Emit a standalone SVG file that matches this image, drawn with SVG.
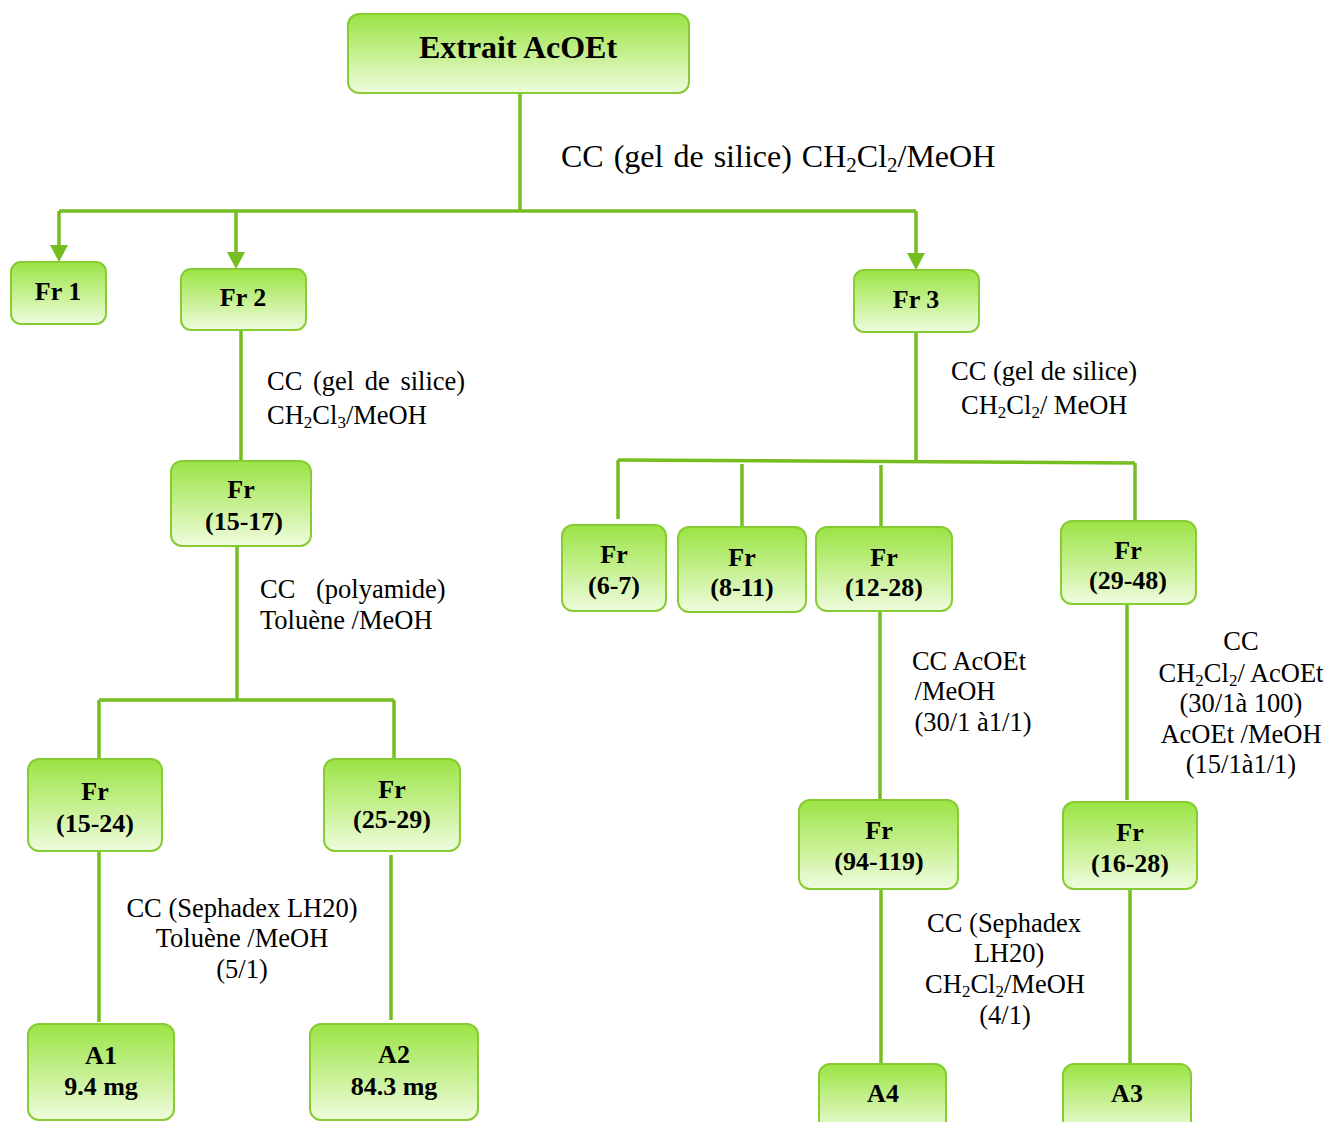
<svg xmlns="http://www.w3.org/2000/svg" width="1330" height="1122" viewBox="0 0 1330 1122">
  <defs>
    <linearGradient id="boxFill" x1="0" y1="0" x2="0" y2="1">
      <stop offset="0" stop-color="#9ae444"/>
      <stop offset="0.55" stop-color="#c9f196"/>
      <stop offset="1" stop-color="#effcdf"/>
    </linearGradient>
    <!-- arrowhead: the line ends 5 units inside the triangle, the tip sits 12 units below the line end -->
    <marker id="down" viewBox="0 0 18 17" markerWidth="18" markerHeight="17" refX="9" refY="5" orient="0" markerUnits="userSpaceOnUse">
      <path d="M0,0 L18,0 L9,17 Z" fill="#76bd22"/>
    </marker>
  </defs>
  <style>
    .box { fill: url(#boxFill); stroke: #86cc32; stroke-width: 2; }
    .lbl { font-family: "Liberation Serif", "Times New Roman", serif; font-weight: bold; font-size: 26px; fill: #000; text-anchor: middle; }
    .title { font-size: 32px; }
    .note { font-family: "Liberation Serif", "Times New Roman", serif; font-size: 26.5px; fill: #000; }
    .mid { text-anchor: middle; }
    .sub { font-size: 17px; }
    .link { fill: none; stroke: #76bd22; stroke-width: 3.5; }
  </style>

  <rect width="1330" height="1122" fill="#ffffff"/>

  <!-- connectors -->
  <g id="connectors">
    <path class="link" d="M520,93 V211"/>
    <path class="link" d="M59,211 H916"/>
    <path class="link" d="M59,211 V250" marker-end="url(#down)"/>
    <path class="link" d="M236,211 V257" marker-end="url(#down)"/>
    <path class="link" d="M916,211 V258" marker-end="url(#down)"/>

    <path class="link" d="M241,330 V461"/>
    <path class="link" d="M237,546 V700"/>
    <path class="link" d="M99,700 H394"/>
    <path class="link" d="M99,700 V759"/>
    <path class="link" d="M394,700 V759"/>
    <path class="link" d="M99,851 V1022"/>
    <path class="link" d="M391,855 V1020"/>

    <path class="link" d="M916,332 V462"/>
    <path class="link" d="M618,460 L1135,463"/>
    <path class="link" d="M618,460 V519"/>
    <path class="link" d="M742,464 V527"/>
    <path class="link" d="M881,465 V527"/>
    <path class="link" d="M1135,463 V521"/>
    <path class="link" d="M880,611 V800"/>
    <path class="link" d="M1127,604 V800"/>
    <path class="link" d="M881,889 V1065"/>
    <path class="link" d="M1130,889 V1068"/>
  </g>

  <!-- nodes -->
  <g id="extrait">
    <rect class="box" x="348" y="14" width="341" height="79" rx="11"/>
    <text class="lbl title" x="518" y="58">Extrait AcOEt</text>
  </g>
  <g id="fr1">
    <rect class="box" x="11" y="262" width="95" height="62" rx="10"/>
    <text class="lbl" x="58" y="300">Fr 1</text>
  </g>
  <g id="fr2">
    <rect class="box" x="181" y="269" width="125" height="61" rx="10"/>
    <text class="lbl" x="243" y="306">Fr 2</text>
  </g>
  <g id="fr3">
    <rect class="box" x="854" y="270" width="125" height="62" rx="10"/>
    <text class="lbl" x="916" y="308">Fr 3</text>
  </g>

  <g id="fr15-17">
    <rect class="box" x="171" y="461" width="140" height="85" rx="11"/>
    <text class="lbl" x="241" y="498">Fr</text>
    <text class="lbl" x="244" y="530">(15-17)</text>
  </g>
  <g id="fr15-24">
    <rect class="box" x="28" y="759" width="134" height="92" rx="11"/>
    <text class="lbl" x="95" y="800">Fr</text>
    <text class="lbl" x="95" y="832">(15-24)</text>
  </g>
  <g id="fr25-29">
    <rect class="box" x="324" y="759" width="136" height="92" rx="11"/>
    <text class="lbl" x="392" y="798">Fr</text>
    <text class="lbl" x="392" y="828">(25-29)</text>
  </g>
  <g id="a1">
    <rect class="box" x="28" y="1024" width="146" height="96" rx="11"/>
    <text class="lbl" x="101" y="1064">A1</text>
    <text class="lbl" x="101" y="1095">9.4 mg</text>
  </g>
  <g id="a2">
    <rect class="box" x="310" y="1024" width="168" height="96" rx="11"/>
    <text class="lbl" x="394" y="1063">A2</text>
    <text class="lbl" x="394" y="1095">84.3 mg</text>
  </g>

  <g id="fr6-7">
    <rect class="box" x="562" y="525" width="104" height="86" rx="11"/>
    <text class="lbl" x="614" y="563">Fr</text>
    <text class="lbl" x="614" y="594">(6-7)</text>
  </g>
  <g id="fr8-11">
    <rect class="box" x="678" y="527" width="128" height="85" rx="11"/>
    <text class="lbl" x="742" y="566">Fr</text>
    <text class="lbl" x="742" y="596">(8-11)</text>
  </g>
  <g id="fr12-28">
    <rect class="box" x="816" y="527" width="136" height="84" rx="11"/>
    <text class="lbl" x="884" y="566">Fr</text>
    <text class="lbl" x="884" y="596">(12-28)</text>
  </g>
  <g id="fr29-48">
    <rect class="box" x="1061" y="521" width="135" height="83" rx="11"/>
    <text class="lbl" x="1128" y="559">Fr</text>
    <text class="lbl" x="1128" y="589">(29-48)</text>
  </g>
  <g id="fr94-119">
    <rect class="box" x="799" y="800" width="159" height="89" rx="11"/>
    <text class="lbl" x="879" y="839">Fr</text>
    <text class="lbl" x="879" y="870">(94-119)</text>
  </g>
  <g id="fr16-28">
    <rect class="box" x="1063" y="802" width="134" height="87" rx="11"/>
    <text class="lbl" x="1130" y="841">Fr</text>
    <text class="lbl" x="1130" y="872">(16-28)</text>
  </g>
  <g id="a4">
    <rect class="box" x="819" y="1064" width="127" height="70" rx="11"/>
    <text class="lbl" x="883" y="1102">A4</text>
  </g>
  <g id="a3">
    <rect class="box" x="1063" y="1064" width="128" height="70" rx="11"/>
    <text class="lbl" x="1127" y="1102">A3</text>
  </g>

  <!-- separation conditions -->
  <g id="conditions">
    <text class="note" x="561" y="167" style="font-size:32px" word-spacing="2">CC (gel de silice)  CH<tspan font-size="21" dy="5">2</tspan><tspan dy="-5">Cl</tspan><tspan font-size="21" dy="5">2</tspan><tspan dy="-5">/MeOH</tspan></text>

    <text class="note" x="267" y="390" word-spacing="4">CC (gel de silice)</text>
    <text class="note" x="267" y="424">CH<tspan class="sub" dy="4">2</tspan><tspan dy="-4">Cl</tspan><tspan class="sub" dy="4">3</tspan><tspan dy="-4">/MeOH</tspan></text>

    <text class="note" x="951" y="380">CC (gel de silice)</text>
    <text class="note" x="961" y="414">CH<tspan class="sub" dy="4">2</tspan><tspan dy="-4">Cl</tspan><tspan class="sub" dy="4">2</tspan><tspan dy="-4">/ MeOH</tspan></text>

    <text class="note" x="260" y="598" word-spacing="14">CC (polyamide)</text>
    <text class="note" x="260" y="629">Toluène /MeOH</text>

    <text class="note mid" x="969" y="670">CC AcOEt</text>
    <text class="note mid" x="955" y="700">/MeOH</text>
    <text class="note mid" x="973" y="731">(30/1 à1/1)</text>

    <text class="note mid" x="1241" y="650">CC</text>
    <text class="note mid" x="1241" y="682">CH<tspan class="sub" dy="4">2</tspan><tspan dy="-4">Cl</tspan><tspan class="sub" dy="4">2</tspan><tspan dy="-4">/ AcOEt</tspan></text>
    <text class="note mid" x="1241" y="712">(30/1à 100)</text>
    <text class="note mid" x="1241" y="743">AcOEt /MeOH</text>
    <text class="note mid" x="1241" y="773">(15/1à1/1)</text>

    <text class="note mid" x="242" y="917">CC (Sephadex LH20)</text>
    <text class="note mid" x="242" y="947">Toluène /MeOH</text>
    <text class="note mid" x="242" y="978">(5/1)</text>

    <text class="note mid" x="1004" y="932">CC (Sephadex</text>
    <text class="note mid" x="1009" y="962">LH20)</text>
    <text class="note mid" x="1005" y="993">CH<tspan class="sub" dy="4">2</tspan><tspan dy="-4">Cl</tspan><tspan class="sub" dy="4">2</tspan><tspan dy="-4">/MeOH</tspan></text>
    <text class="note mid" x="1005" y="1024">(4/1)</text>
  </g>
</svg>
